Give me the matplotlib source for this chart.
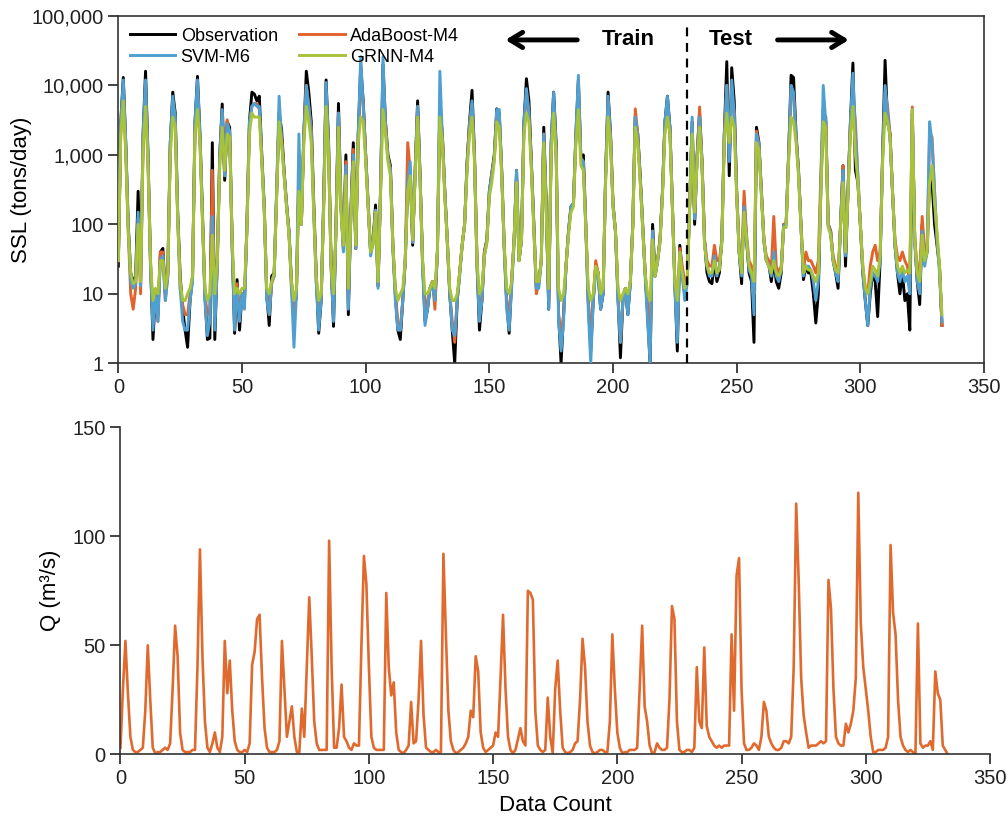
import numpy as np
import matplotlib.pyplot as plt
from matplotlib.ticker import FixedLocator, FuncFormatter

plt.rcParams["font.family"] = ["Liberation Sans", "DejaVu Sans"]

# -------------------------------------------------------
# Données
# -------------------------------------------------------

# débit Q (m3/s), un point par pas de temps
q_flow = [
    3, 30, 52, 28, 8, 2, 1, 1, 2, 3,
    20, 50, 25, 3, 0.5, 1, 1, 2, 3, 2,
    5, 30, 59, 45, 10, 2, 1, 1, 1, 2,
    2, 40, 94, 45, 15, 3, 1, 5, 10, 3,
    1, 8, 52, 28, 43, 20, 6, 2, 1, 1,
    2, 1, 5, 41, 47, 62, 64, 35, 12, 3,
    1, 1, 1, 2, 6, 52, 30, 8, 15, 22,
    8, 1, 1, 21, 8, 40, 72, 45, 15, 5,
    2, 2, 2, 2, 98, 40, 3, 3, 12, 32,
    8, 6, 3, 2, 5, 4, 4, 50, 91, 78,
    40, 8, 3, 2, 2, 2, 2, 74, 40, 27,
    33, 10, 2, 1, 0.5, 2, 4, 24, 5, 6,
    25, 52, 18, 3, 2, 1, 1, 2, 1, 1,
    92, 55, 20, 6, 2, 0.5, 1, 2, 3, 5,
    8, 20, 17, 45, 38, 10, 3, 1, 2, 3,
    4, 10, 8, 35, 64, 30, 8, 2, 0.5, 2,
    7, 12, 6, 4, 75, 74, 71, 20, 4, 2,
    1, 2, 26, 8, 0.5, 30, 43, 20, 3, 1,
    0.5, 1, 2, 5, 6, 25, 53, 40, 15, 4,
    1, 0.5, 1, 2, 2, 1, 1, 15, 55, 30,
    10, 3, 0.5, 1, 1, 2, 2, 2, 3, 30,
    59, 22, 15, 4, 0.5, 1, 5, 3, 2, 2,
    3, 25, 68, 62, 15, 2, 1, 1, 2, 2,
    1, 3, 40, 15, 12, 49, 13, 8, 6, 4,
    3, 4, 3, 4, 4, 4, 55, 20, 82, 90,
    30, 5, 2, 2, 3, 5, 4, 2, 8, 24,
    20, 8, 5, 3, 2, 2, 3, 6, 6, 5,
    8, 40, 115, 80, 35, 18, 10, 3, 4, 4,
    4, 5, 6, 5, 6, 80, 67, 30, 8, 5,
    4, 4, 14, 10, 14, 20, 35, 120, 60, 40,
    30, 20, 8, 1, 1, 2, 2, 2, 3, 8,
    96, 65, 55, 25, 8, 4, 2, 1, 2, 1,
    0, 60, 5, 3, 4, 4, 6, 2, 38, 28,
    25, 4, 2, 0,
]

# SSL observé (tons/day)
ssl_obs = [
    25, 3000, 13000, 1500, 100, 20, 15, 18, 300, 15,
    2000, 16000, 1000, 30, 2.2, 10, 5, 40, 45, 10,
    20, 1500, 8000, 4000, 150, 18, 6, 3, 1.7, 8,
    18, 3000, 13500, 2000, 150, 10, 2.2, 2.3, 1500, 2.2,
    30, 1000, 5400, 430, 3000, 2500, 60, 2.7, 16, 3,
    10, 8, 100, 3000, 8000, 7500, 6000, 7000, 1000, 180,
    10, 3.5, 18, 20, 300, 4000, 2300, 600, 200, 80,
    15, 4.8, 10, 500, 100, 2000, 16000, 8000, 3000, 200,
    20, 2.7, 8, 200, 12000, 1500, 30, 3.4, 100, 5500,
    200, 45, 1000, 5, 150, 1500, 45, 2000, 19000, 6000,
    1000, 200, 40, 60, 190, 13, 300, 20000, 3000, 1000,
    700, 50, 10, 3, 2.2, 8, 30, 400, 600, 50,
    600, 6000, 500, 30, 4, 6, 12, 15, 8, 40,
    5000, 2000, 300, 60, 10, 3, 1, 8, 20, 50,
    100, 800, 3000, 8500, 1000, 30, 3, 8, 40, 60,
    300, 550, 1000, 4600, 4000, 600, 50, 8, 2.7, 15,
    60, 600, 30, 60, 3000, 12500, 6000, 800, 100, 12,
    15, 30, 2500, 200, 6, 1500, 8000, 1500, 5, 1,
    5, 25, 80, 180, 200, 2000, 12000, 900, 1000, 100,
    8, 1.5, 8, 25, 20, 6, 10, 500, 8000, 2000,
    200, 80, 10, 1.2, 8, 12, 5, 15, 100, 3500,
    2000, 500, 100, 20, 5, 1, 100, 18, 30, 60,
    300, 3000, 7000, 2500, 200, 15, 1.5, 50, 20, 10,
    15, 200, 3000, 100, 1000, 4000, 800, 60, 20, 15,
    14, 30, 15, 20, 60, 2000, 22000, 500, 18000, 6000,
    300, 40, 14, 200, 60, 20, 15, 2, 2500, 1500,
    300, 60, 30, 27, 15, 30, 15, 12, 20, 100,
    100, 1000, 14000, 13000, 2000, 600, 100, 16, 25, 20,
    20, 10, 3.8, 10, 300, 4000, 3500, 100, 80, 30,
    20, 12, 100, 700, 25, 300, 3000, 21000, 600, 400,
    100, 20, 8, 3.5, 10, 20, 15, 4.7, 30, 1000,
    23000, 3000, 2000, 300, 50, 20, 10, 20, 8, 10,
    3, 4000, 60, 15, 7, 100, 30, 40, 500, 400,
    100, 50, 25, 3.5,
]

ssl_adaboost = [
    30, 2500, 9000, 1200, 80, 10, 6, 12, 120, 10,
    1500, 9000, 800, 25, 5, 10, 4, 40, 40, 8,
    18, 1300, 5000, 3000, 120, 12, 7, 5, 5, 10,
    16, 2500, 9000, 1700, 120, 10, 5, 6, 600, 5,
    25, 900, 4000, 500, 3200, 2000, 50, 5, 14, 5,
    10, 8, 90, 2500, 5000, 5500, 5500, 4500, 900, 170,
    10, 5, 14, 18, 280, 4000, 1800, 550, 190, 75,
    12, 5, 10, 600, 100, 2000, 10000, 5000, 2500, 180,
    15, 5, 8, 180, 8000, 1300, 25, 5, 90, 4000,
    180, 45, 800, 8, 130, 1200, 45, 2000, 12000, 5500,
    1000, 190, 40, 55, 160, 13, 280, 12000, 3000, 900,
    650, 50, 10, 4, 3, 8, 30, 1500, 600, 55,
    550, 5000, 450, 28, 6, 8, 12, 15, 6, 40,
    6000, 1800, 280, 55, 10, 4, 2, 8, 20, 50,
    100, 700, 3000, 5500, 900, 30, 5, 8, 40, 60,
    280, 550, 900, 4000, 3500, 550, 50, 8, 5, 14,
    55, 500, 30, 60, 2500, 8000, 4000, 700, 90, 10,
    14, 30, 2000, 180, 8, 1200, 6000, 1200, 5, 2,
    5, 25, 75, 170, 190, 1800, 9000, 900, 800, 95,
    8, 2, 8, 30, 20, 7, 10, 450, 6000, 1800,
    190, 80, 10, 2, 8, 12, 6, 15, 95, 4600,
    2000, 450, 90, 20, 6, 2, 80, 18, 30, 60,
    290, 3000, 5000, 2500, 190, 14, 3, 45, 25, 15,
    15, 190, 2500, 120, 900, 4900, 700, 60, 30, 25,
    25, 50, 30, 30, 60, 2000, 10000, 1000, 8000, 4000,
    290, 45, 25, 300, 70, 30, 25, 10, 2200, 1400,
    290, 60, 35, 30, 22, 130, 25, 20, 25, 100,
    100, 1000, 9000, 7000, 1800, 600, 100, 22, 40, 30,
    30, 25, 20, 30, 500, 5000, 3000, 100, 80, 35,
    25, 18, 100, 700, 40, 300, 3000, 8000, 3000, 500,
    100, 25, 12, 10, 25, 40, 50, 30, 40, 1000,
    8000, 5000, 2000, 300, 60, 35, 30, 40, 30, 25,
    15, 4900, 60, 25, 20, 130, 40, 45, 2000, 1800,
    300, 60, 25, 3.5,
]

ssl_svm = [
    30, 3000, 12000, 1500, 90, 15, 12, 14, 150, 13,
    2000, 12000, 900, 25, 3, 10, 4, 30, 35, 8,
    18, 1500, 7000, 3500, 130, 12, 4, 3, 3, 8,
    15, 3000, 12000, 1800, 130, 8, 2.5, 4, 130, 3,
    25, 1000, 4500, 500, 2800, 2200, 50, 3, 12, 4,
    10, 6, 100, 3000, 5000, 5500, 5000, 5000, 900, 160,
    8, 5, 15, 18, 300, 7000, 1600, 550, 180, 75,
    12, 1.7, 10, 2000, 100, 2000, 10000, 5000, 2000, 150,
    15, 3, 8, 200, 11000, 1200, 25, 4, 90, 4000,
    180, 40, 700, 6, 140, 1000, 45, 2000, 26000, 5000,
    900, 190, 35, 55, 160, 12, 300, 26000, 2500, 900,
    600, 45, 8, 3, 3, 8, 30, 400, 800, 55,
    550, 5000, 450, 25, 3.5, 6, 12, 14, 8, 40,
    16000, 1800, 280, 55, 10, 3, 2.5, 8, 18, 50,
    100, 700, 2500, 6000, 900, 25, 4, 8, 35, 55,
    300, 500, 900, 4500, 4500, 550, 45, 6, 3, 12,
    55, 600, 30, 60, 3000, 9000, 4000, 700, 90, 12,
    12, 30, 2000, 180, 6, 1500, 8000, 1200, 4, 1.5,
    4, 25, 80, 180, 200, 2000, 14000, 900, 800, 90,
    6, 1, 8, 20, 18, 6, 10, 450, 7000, 1800,
    180, 75, 8, 2, 8, 12, 5, 14, 100, 3500,
    1800, 450, 90, 18, 4, 1, 80, 18, 28, 55,
    280, 3000, 7000, 2500, 190, 12, 2, 40, 18, 8,
    14, 190, 3500, 120, 900, 3500, 700, 55, 25, 18,
    18, 35, 18, 25, 55, 1800, 10000, 800, 12000, 4000,
    280, 38, 18, 180, 60, 22, 18, 5, 2000, 1400,
    280, 55, 30, 25, 18, 40, 18, 15, 22, 95,
    100, 1000, 10000, 8000, 1800, 550, 90, 18, 25, 25,
    22, 15, 8, 15, 300, 10000, 3000, 95, 75, 30,
    20, 15, 100, 600, 35, 280, 3000, 15000, 2000, 500,
    100, 20, 8, 3.5, 12, 20, 18, 15, 30, 900,
    10000, 4000, 1800, 300, 50, 20, 15, 22, 15, 18,
    10, 4500, 55, 15, 10, 80, 25, 40, 3000, 1500,
    300, 60, 20, 4,
]

ssl_grnn = [
    30, 2000, 6000, 1000, 80, 20, 14, 15, 100, 15,
    1200, 5000, 700, 30, 8, 12, 10, 30, 30, 12,
    20, 1000, 3500, 2500, 120, 15, 8, 8, 10, 12,
    18, 2000, 4500, 1500, 120, 12, 8, 10, 70, 10,
    30, 700, 2500, 600, 2000, 1800, 60, 10, 12, 10,
    12, 12, 80, 2000, 4000, 3500, 3500, 3500, 800, 150,
    12, 10, 15, 20, 250, 3000, 1500, 500, 180, 70,
    15, 8, 12, 300, 100, 1500, 5000, 3000, 1500, 150,
    18, 8, 10, 150, 5000, 1000, 25, 10, 80, 2500,
    150, 50, 500, 12, 120, 800, 50, 1500, 3500, 3000,
    800, 180, 40, 50, 150, 15, 250, 4500, 2000, 800,
    500, 50, 12, 8, 10, 12, 30, 300, 500, 60,
    500, 3500, 400, 30, 10, 10, 12, 15, 12, 40,
    3500, 1500, 250, 60, 12, 8, 8, 10, 20, 50,
    100, 600, 2000, 3500, 800, 30, 10, 12, 35, 55,
    250, 400, 800, 3000, 2500, 500, 50, 12, 10, 15,
    60, 400, 30, 60, 2000, 4000, 3000, 600, 80, 15,
    15, 30, 1500, 150, 12, 1000, 4000, 1000, 12, 8,
    10, 25, 70, 150, 180, 1500, 4500, 700, 600, 90,
    12, 8, 10, 25, 20, 10, 12, 400, 3500, 1500,
    180, 80, 12, 8, 10, 12, 10, 15, 90, 2500,
    1500, 400, 90, 20, 10, 8, 60, 18, 30, 55,
    250, 2000, 3500, 2000, 180, 15, 8, 40, 20, 12,
    15, 180, 2000, 150, 800, 2500, 700, 50, 25, 20,
    20, 30, 20, 22, 55, 1500, 4000, 1500, 3500, 2500,
    250, 40, 20, 150, 60, 25, 20, 15, 1500, 1200,
    250, 60, 30, 25, 20, 30, 20, 18, 22, 90,
    90, 800, 3500, 3000, 1500, 500, 90, 20, 25, 22,
    22, 18, 15, 20, 250, 3000, 2500, 90, 70, 30,
    22, 20, 90, 400, 40, 250, 2000, 5000, 1000, 400,
    100, 25, 12, 10, 15, 25, 22, 18, 35, 800,
    4000, 3000, 1800, 300, 55, 25, 20, 25, 20, 22,
    20, 4500, 60, 20, 15, 70, 30, 40, 400, 700,
    200, 80, 25, 5,
]

split_index = 230  # séparation apprentissage / test

x_top = np.arange(len(ssl_obs))
x_bot = np.arange(len(q_flow))

# -------------------------------------------------------
# Figure
# -------------------------------------------------------

fig = plt.figure(figsize=(10.08, 8.23), dpi=100)

ax1 = fig.add_axes([0.1174, 0.5586, 0.8588, 0.422])
ax2 = fig.add_axes([0.1195, 0.0835, 0.8626, 0.3973])

c_obs = "#000000"
c_ada = "#E2622B"
c_svm = "#4F9FD0"
c_grnn = "#A8C23A"

ax1.plot(x_top, ssl_obs, color=c_obs, lw=2.1, label="Observation", zorder=2)
ax1.plot(x_top, ssl_svm, color=c_svm, lw=2.1, label="SVM-M6", zorder=4)
ax1.plot(x_top, ssl_adaboost, color=c_ada, lw=2.1, label="AdaBoost-M4", zorder=3)
ax1.plot(x_top, ssl_grnn, color=c_grnn, lw=2.1, label="GRNN-M4", zorder=5)

ax1.set_yscale("log")
ax1.set_ylim(1, 100000)
ax1.set_xlim(0, 350)
ax1.yaxis.set_major_locator(FixedLocator([1, 10, 100, 1000, 10000, 100000]))
ax1.yaxis.set_minor_locator(FixedLocator([]))
ax1.yaxis.set_major_formatter(FuncFormatter(lambda v, p: f"{v:,.0f}"))
ax1.set_xticks(range(0, 351, 50))
ax1.tick_params(axis="both", direction="out", length=7, width=1.2,
                labelsize=14.5, colors="#222222")
for s in ax1.spines.values():
    s.set_color("#333333")
    s.set_linewidth(1.2)

ax1.set_ylabel("SSL (tons/day)", fontsize=16)
ax1.yaxis.set_label_coords(-0.10, 0.5)

ax1.axvline(split_index, color="black", lw=1.6, ls=(0, (4, 3)), ymax=0.985, zorder=6)

ax1.legend(loc="upper left", bbox_to_anchor=(0.0, 1.0), ncol=2, frameon=False,
           fontsize=13, handlelength=2.5, handletextpad=0.3, columnspacing=1.2,
           labelspacing=0.22, borderaxespad=0.25)

arrow_kw = dict(arrowstyle="->,head_length=0.9,head_width=0.55", lw=3.5, color="black")
ax1.annotate("", xy=(0.4440, 0.931), xytext=(0.5333, 0.931),
             xycoords="axes fraction", arrowprops=arrow_kw)
ax1.annotate("", xy=(0.8470, 0.931), xytext=(0.7583, 0.931),
             xycoords="axes fraction", arrowprops=arrow_kw)
ax1.text(0.5886, 0.931, "Train", transform=ax1.transAxes, fontsize=16,
         fontweight="bold", ha="center", va="center")
ax1.text(0.7075, 0.931, "Test", transform=ax1.transAxes, fontsize=16,
         fontweight="bold", ha="center", va="center")

# -------------------------------------------------------
# Graphique du débit
# -------------------------------------------------------

ax2.plot(x_bot, q_flow, color="#E06A2E", lw=1.9)
ax2.set_xlim(0, 350)
ax2.set_ylim(0, 150)
ax2.set_xticks(range(0, 351, 50))
ax2.set_yticks([0, 50, 100, 150])
ax2.tick_params(axis="both", direction="out", length=7, width=1.2,
                labelsize=14.5, colors="#222222")
ax2.spines["top"].set_visible(False)
ax2.spines["right"].set_visible(False)
for s in ("left", "bottom"):
    ax2.spines[s].set_color("#333333")
    ax2.spines[s].set_linewidth(1.2)

ax2.set_ylabel("Q (m³/s)", fontsize=16)
ax2.yaxis.set_label_coords(-0.068, 0.5)
ax2.set_xlabel("Data Count", fontsize=16)
ax2.xaxis.set_label_coords(0.5, -0.125)

fig.savefig("out.png", dpi=100)
